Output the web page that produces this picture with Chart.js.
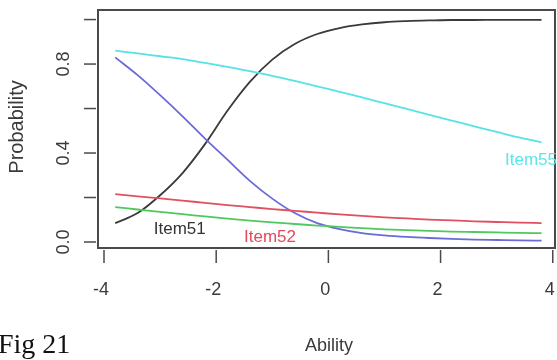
<!DOCTYPE html>
<html>
<head>
<meta charset="utf-8">
<script src="https://cdn.jsdelivr.net/npm/chart.js@4/dist/chart.umd.min.js"></script>
<style>
  body { margin: 0; background: #fff; }
  #wrap { position: relative; width: 557px; height: 360px; }
</style>
</head>
<body>
<div id="wrap"><canvas id="iccChart" width="557" height="360"></canvas></div>
<script>
// ability grid (x) shared by all item curves
const ability = [-3.8, -3.4, -3.0, -2.6, -2.2, -1.8, -1.4, -1.0, -0.6, -0.2,
                 0.2, 0.6, 1.0, 1.4, 1.8, 2.2, 2.6, 3.0, 3.4, 3.8];

// probabilities
const item51 = [0.085, 0.13, 0.21, 0.31, 0.44, 0.59, 0.72, 0.82, 0.89, 0.935,
                0.962, 0.978, 0.988, 0.993, 0.996, 0.998, 0.998, 0.999, 0.999, 0.999];
const itemBlue = [0.83, 0.75, 0.66, 0.565, 0.465, 0.37, 0.275, 0.195, 0.13, 0.085,
                  0.058, 0.04, 0.03, 0.023, 0.018, 0.014, 0.011, 0.009, 0.007, 0.006];
const item55 = [0.86, 0.848, 0.835, 0.822, 0.805, 0.787, 0.768, 0.747, 0.724, 0.70,
                0.675, 0.65, 0.624, 0.598, 0.572, 0.546, 0.52, 0.495, 0.47, 0.448];
const item52 = [0.215, 0.205, 0.196, 0.186, 0.176, 0.166, 0.157, 0.148, 0.14, 0.132,
                0.124, 0.117, 0.111, 0.106, 0.101, 0.097, 0.093, 0.09, 0.087, 0.085];
const itemGreen = [0.157, 0.146, 0.135, 0.125, 0.115, 0.105, 0.096, 0.088, 0.081, 0.074,
                   0.068, 0.062, 0.057, 0.053, 0.05, 0.047, 0.045, 0.043, 0.041, 0.04];

const xTicks = [-4, -2, 0, 2, 4];
const yTicks = [0, 0.2, 0.4, 0.6, 0.8, 1.0];
const yTickLabels = ['0.0', '', '0.4', '', '0.8', ''];

function toPoints(ys) {
    return ability.map((x, i) => ({ x: x, y: ys[i] }));
}

function curve(label, ys, color) {
    return {
        label: label,
        data: toPoints(ys),
        borderColor: color,
        borderWidth: 1.8,
        pointRadius: 0,
        fill: false,
        cubicInterpolationMode: 'monotone'
    };
}

// R style box, axes and text
const rAxes = {
    id: 'rAxes',
    afterDraw(chart) {
        const ctx = chart.ctx;
        const a = chart.chartArea;
        const xs = chart.scales.x;
        const ys = chart.scales.y;
        ctx.save();
        ctx.strokeStyle = '#4a4a4a';
        ctx.lineWidth = 2;
        ctx.strokeRect(a.left, a.top, a.right - a.left, a.bottom - a.top);

        ctx.lineWidth = 1.5;
        ctx.fillStyle = '#3a3a3a';
        ctx.font = '18px "Liberation Sans", Arial, sans-serif';
        ctx.textAlign = 'center';
        ctx.textBaseline = 'middle';
        xTicks.forEach(v => {
            const px = xs.getPixelForValue(v);
            ctx.beginPath();
            ctx.moveTo(px, a.bottom + 2);
            ctx.lineTo(px, a.bottom + 15);
            ctx.stroke();
            ctx.fillText(String(v), px - 3, 290);
        });
        yTicks.forEach((v, i) => {
            const py = ys.getPixelForValue(v);
            ctx.beginPath();
            ctx.moveTo(a.left - 2, py);
            ctx.lineTo(a.left - 14, py);
            ctx.stroke();
            if (yTickLabels[i]) {
                ctx.save();
                ctx.translate(64, py);
                ctx.rotate(-Math.PI / 2);
                ctx.fillText(yTickLabels[i], 0, 0);
                ctx.restore();
            }
        });

        ctx.fillText('Ability', 329, 346);
        ctx.save();
        ctx.translate(17, 127);
        ctx.rotate(-Math.PI / 2);
        ctx.font = '20px "Liberation Sans", Arial, sans-serif';
        ctx.fillText('Probability', 0, 0);
        ctx.restore();

        // item labels
        ctx.font = '17px "Liberation Sans", Arial, sans-serif';
        ctx.fillStyle = '#333333';
        ctx.fillText('Item51', xs.getPixelForValue(-2.65), ys.getPixelForValue(0.058));
        ctx.fillStyle = '#e04a5a';
        ctx.fillText('Item52', xs.getPixelForValue(-1.04), ys.getPixelForValue(0.022));
        ctx.fillStyle = '#5ae6ea';
        ctx.textAlign = 'right';
        ctx.fillText('Item55', 557, ys.getPixelForValue(0.365));

        // figure caption
        ctx.fillStyle = '#111';
        ctx.textAlign = 'left';
        ctx.textBaseline = 'alphabetic';
        ctx.font = '28px "Liberation Serif", "Times New Roman", serif';
        ctx.fillText('Fig 21', -2, 353);
        ctx.restore();
    }
};

new Chart(document.getElementById('iccChart').getContext('2d'), {
    type: 'line',
    data: {
        datasets: [
            curve('Item55', item55, '#55e3e8'),
            curve('Item52', item52, '#e05060'),
            curve('Item53', itemGreen, '#50c860'),
            curve('Item54', itemBlue, '#6a6ad8'),
            curve('Item51', item51, '#3a3a3a')
        ]
    },
    options: {
        responsive: false,
        animation: false,
        layout: { padding: { left: 98, right: 2, top: 10, bottom: 112 } },
        scales: {
            x: { type: 'linear', min: -4.107, max: 4.04, display: false },
            y: { type: 'linear', min: -0.027, max: 1.043, display: false }
        },
        plugins: {
            legend: { display: false },
            tooltip: { enabled: false }
        }
    },
    plugins: [rAxes]
});
</script>
</body>
</html>
